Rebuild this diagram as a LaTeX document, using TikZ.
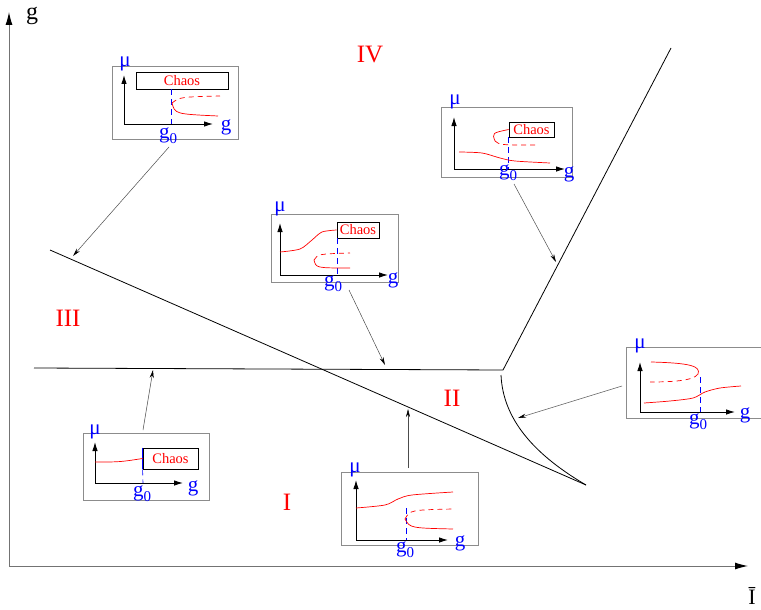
\documentclass[tikz,border=0pt]{standalone}
\usepackage{fontspec}
\setmainfont{Liberation Serif}
\usetikzlibrary{arrows.meta}

\newcommand{\gnull}{g\raisebox{-5pt}{\fontsize{15}{15}\selectfont 0}}

\begin{document}
\begin{tikzpicture}[x=1pt,y=-1pt,
  frame/.style={draw=black!45, line width=0.8pt},
  mainax/.style={draw=black!55, line width=1pt, -{Latex[length=13pt,width=7pt,black]}},
  ax/.style={line width=0.9pt, -{Latex[length=9pt,width=5.5pt]}},
  border/.style={line width=0.8pt},
  br/.style={red, line width=0.7pt},
  unst/.style={red, line width=0.7pt, dash pattern=on 5pt off 4pt},
  crit/.style={blue, line width=0.6pt, dash pattern=on 6pt off 4pt},
  lbl/.style={blue, font=\fontsize{21}{21}\selectfont, inner sep=0pt},
  chaos/.style={draw, line width=0.8pt, text=red, font=\fontsize{14.5}{14.5}\selectfont, inner sep=0pt},
  region/.style={red, font=\fontsize{25}{25}\selectfont},
  pointer/.style={black!70, line width=0.5pt, -{Stealth[length=8pt,width=4pt,black]}}]
\useasboundingbox (0,0) rectangle (761,610);

% main axes
\coordinate (O) at (9,566);
\coordinate (ytop) at (9,12);
\coordinate (xend) at (748,566);
\draw[mainax] (O) -- (ytop);
\draw[mainax] (O) -- (xend);
\node[font=\fontsize{24}{24}\selectfont] (glab) at (32,16) {g};
\node[font=\fontsize{22}{22}\selectfont] (Ilab) at (752,596) {\=I};

% phase boundaries
\coordinate (d1) at (50,250);
\coordinate (d2) at (586,485);
\coordinate (h1) at (34,368);
\coordinate (J) at (503,370);
\coordinate (t) at (671,48);
\coordinate (c0) at (501,375);
\draw[border] (d1) -- (d2);
\draw[border] (h1) -- (J) -- (t);
\draw[border] (c0) .. controls (503,420) and (535,455) .. (d2);

% regions
\node[region] (IV) at (370,55) {IV};
\node[region] (III) at (68,318) {III};
\node[region] (II) at (452,398) {II};
\node[region] (I) at (287,502) {I};

% inset 1
\draw[frame] (112,66) rectangle (238,139);
\draw[ax] (124,124) -- (124,75);
\draw[ax] (124,124) -- (213,124);
\node[lbl] (mu1) at (125,64) {μ};
\node[lbl] (g1) at (226,127) {g};
\node[lbl] (gz1) at (168,136) {\gnull};
\node[chaos, minimum width=92pt, minimum height=17pt] (ch1) at (182,80.5) {Chaos};
\draw[crit] (ch1.south -| 171,0) -- (171,124);
\draw[unst] (172,103) .. controls (180,97) .. (220,96);
\draw[br] (172,103) .. controls (175,114) .. (218,116);

% inset 2
\draw[frame] (441,107) rectangle (572,177);
\draw[ax] (454,169) -- (454,117);
\draw[ax] (454,169) -- (565,169);
\node[lbl] (mu2) at (455,102) {μ};
\node[lbl] (g2) at (569,174) {g};
\node[lbl] (gz2) at (508,173) {\gnull};
\node[chaos, minimum width=45pt, minimum height=15pt] (ch2) at (531.5,129.5) {Chaos};
\draw[crit] (508,137) -- (508,169);
\draw[br] plot[smooth] coordinates {(459,152) (482,153) (500,158) (515,161) (550,163)};
\draw[br] (495,141) .. controls (492,133) .. (ch2.west);
\draw[unst] (495,141) .. controls (500,145) .. (535,145);

% inset 3
\draw[frame] (271,214) rectangle (398,282);
\draw[ax] (280,275) -- (280,223);
\draw[ax] (280,275) -- (388,275);
\node[lbl] (mu3) at (280,209) {μ};
\node[lbl] (g3) at (393,280) {g};
\node[lbl] (gz3) at (333,284) {\gnull};
\node[chaos, minimum width=42pt, minimum height=16pt] (ch3) at (358,230) {Chaos};
\draw[crit] (337,238) -- (337,275);
\draw[br] plot[smooth] coordinates {(280,252) (300,249) (312,240) (322,232) (ch3.west)};
\draw[unst] (314,260) .. controls (318,254) .. (350,253);
\draw[br] (314,260) .. controls (316,268) .. (350,268);

% inset 4
\draw[frame] (762,347) -- (626,347) -- (626,418) -- (762,418);
\draw[ax] (640,412) -- (640,362);
\draw[ax] (640,412) -- (735,412);
\node[lbl] (mu4) at (640,346) {μ};
\node[lbl] (g4) at (745,415) {g};
\node[lbl] (gz4) at (698,422) {\gnull};
\draw[crit] (700,377) -- (700,412);
\draw[br] (651,362) .. controls (690,363) and (701,366) .. (698,374);
\draw[unst] (698,374) .. controls (694,381) and (670,382) .. (650,382);
\draw[br] plot[smooth] coordinates {(644,403) (670,401) (693,398) (705,392) (720,388) (741,386)};

% inset 5
\draw[frame] (83,433) rectangle (209,500);
\draw[ax] (95,483) -- (95,442);
\draw[ax] (95,483) -- (183,483);
\node[lbl] (mu5) at (95,432) {μ};
\node[lbl] (g5) at (193,488) {g};
\node[lbl] (gz5) at (142,494) {\gnull};
\node[chaos, minimum width=55pt, minimum height=21pt] (ch5) at (170.5,458.5) {Chaos};
\draw[blue, line width=0.8pt] (ch5.north west) -- (ch5.south west);
\draw[crit] (ch5.south west) -- (143,483);
\draw[br] (95,462) .. controls (120,462) .. (ch5.west);

% inset 6
\draw[frame] (341,472) rectangle (478,545);
\draw[ax] (356,540) -- (356,480);
\draw[ax] (356,540) -- (448,540);
\node[lbl] (mu6) at (355,470) {μ};
\node[lbl] (g6) at (460,543) {g};
\node[lbl] (gz6) at (405,550) {\gnull};
\draw[crit] (406,508) -- (406,540);
\draw[br] plot[smooth] coordinates {(356,508) (385,505) (398,499) (412,495) (453,492)};
\draw[unst] (405,519) .. controls (410,510) .. (453,509);
\draw[br] (405,519) .. controls (410,528) .. (453,529);

% pointers
\coordinate (p1) at (169,147);  \coordinate (q1) at (73,256);
\coordinate (p2) at (514,184);  \coordinate (q2) at (556,262);
\coordinate (p3) at (349,290);  \coordinate (q3) at (385,365);
\coordinate (p4) at (622,386);  \coordinate (q4) at (518,418);
\coordinate (p5) at (143,430);  \coordinate (q5) at (153,370);
\coordinate (p6) at (408,468);  \coordinate (q6) at (408,409);
\foreach \i in {1,...,6}
  \draw[pointer] (p\i) -- (q\i);
\end{tikzpicture}
\end{document}
